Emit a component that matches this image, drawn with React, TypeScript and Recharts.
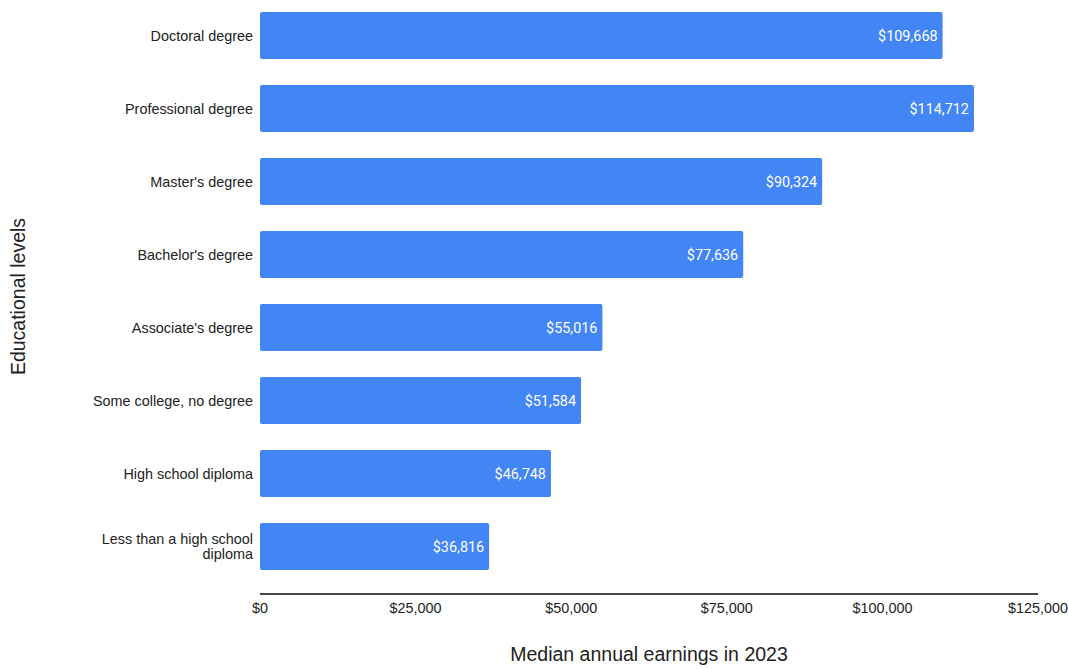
import React from 'react'
import { BarChart, Bar, XAxis, YAxis, LabelList, Label } from 'recharts'

const levels = [
  'Doctoral degree',
  'Professional degree',
  "Master's degree",
  "Bachelor's degree",
  "Associate's degree",
  'Some college, no degree',
  'High school diploma',
  'Less than a high school diploma',
]

const earnings = [109668, 114712, 90324, 77636, 55016, 51584, 46748, 36816]

const xTicks = [0, 25000, 50000, 75000, 100000, 125000]

const data = levels.map((level, i) => ({ level, earnings: earnings[i] }))

const BAR_COLOR = '#4285F4'
const AXIS_FONT = 'Arial, "Liberation Sans", sans-serif'

const money = (v: number) => '$' + v.toLocaleString('en-US')

// split long category names onto two lines, like the original
const wrap = (s: string, max = 24) => {
  if (s.length <= max) return [s]
  const cut = s.lastIndexOf(' ', max)
  return [s.slice(0, cut), s.slice(cut + 1)]
}

const CategoryTick = ({ x, y, payload }: any) => {
  const lines = wrap(payload.value)
  const lh = 14.5
  const y0 = y - ((lines.length - 1) * lh) / 2
  return (
    <text
      x={x}
      y={y0}
      textAnchor="end"
      dominantBaseline="central"
      fontSize={14.4}
      fontFamily={AXIS_FONT}
      fill="#222"
    >
      {lines.map((l, i) => (
        <tspan key={i} x={x} dy={i === 0 ? 0 : lh}>
          {l}
        </tspan>
      ))}
    </text>
  )
}

export default function App() {
  return (
    <div style={{ position: 'absolute', left: 0, top: 0, width: 1068, height: 669, background: '#fff' }}>
      <BarChart
        width={1068}
        height={669}
        data={data}
        layout="vertical"
        margin={{ top: -1, right: 30, bottom: 0, left: 0 }}
      >
        <XAxis
          type="number"
          domain={[0, 125000]}
          ticks={xTicks}
          tickFormatter={money}
          axisLine={{ stroke: '#444', strokeWidth: 2 }}
          tickLine={false}
          tickSize={0}
          tickMargin={9}
          height={75}
          tick={{ fontSize: 14.4, fontFamily: AXIS_FONT, fill: '#222' }}
        >
          <Label
            value="Median annual earnings in 2023"
            position="insideBottom"
            offset={8}
            style={{ fontSize: 19.5, fontFamily: AXIS_FONT, fill: '#222' }}
          />
        </XAxis>
        <YAxis
          type="category"
          dataKey="level"
          width={260}
          axisLine={false}
          tickLine={false}
          tickSize={0}
          tickMargin={7}
          padding={{ top: 0, bottom: 11 }}
          tick={<CategoryTick />}
          interval={0}
        >
          <Label
            value="Educational levels"
            angle={-90}
            position="insideLeft"
            offset={18}
            style={{ fontSize: 19.5, fontFamily: AXIS_FONT, fill: '#222', textAnchor: 'middle' }}
          />
        </YAxis>
        <Bar dataKey="earnings" fill={BAR_COLOR} barSize={47} radius={2} isAnimationActive={false}>
          <LabelList
            dataKey="earnings"
            position="insideRight"
            offset={5}
            formatter={(v: any) => money(Number(v))}
            style={{ fontSize: 14.4, fontFamily: 'Roboto, sans-serif', fill: '#fff' }}
          />
        </Bar>
      </BarChart>
    </div>
  )
}
